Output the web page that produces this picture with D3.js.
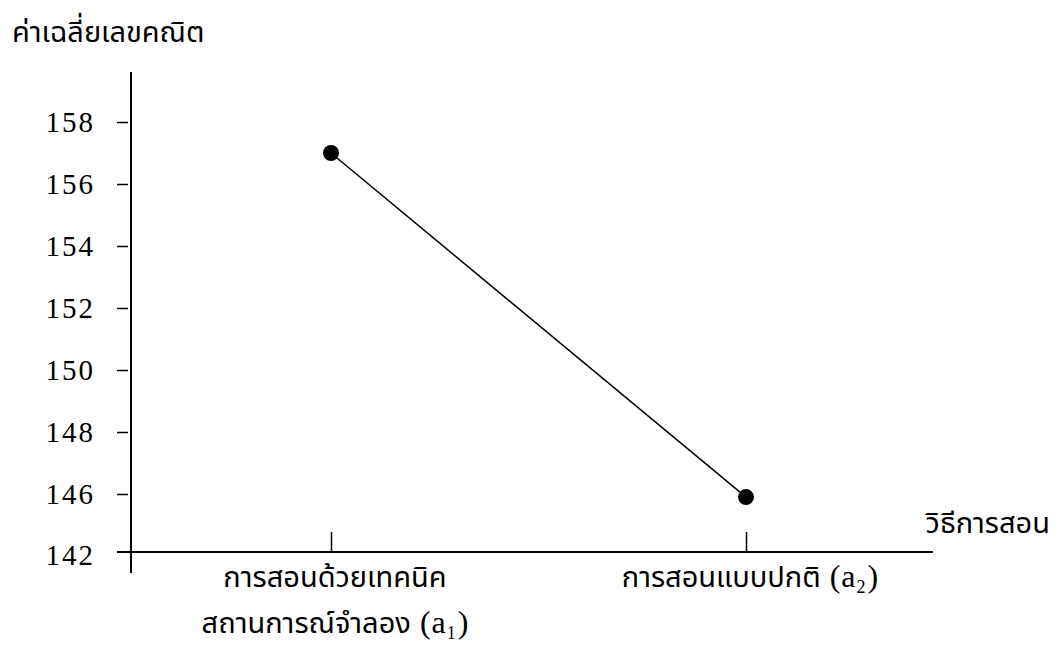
<!DOCTYPE html>
<html>
<head>
<meta charset="utf-8">
<script src="https://cdn.jsdelivr.net/npm/d3@7"></script>
<style>
  body { margin: 0; background: #fff; }
  .thai { font-family: "Noto Sans Thai", "Noto Sans", "DejaVu Sans", sans-serif; fill: #000; }
  .num { font-family: "Liberation Serif", "DejaVu Serif", serif; fill: #000; }
  .axis .domain { display: none; }
  .axis line { stroke: #000; stroke-width: 1.5; }
</style>
</head>
<body>
<div id="chart"></div>
<script>
/* chart data */
const categories = ["a1", "a2"];
const categoryLabels = [["การสอนด้วยเทคนิค", "สถานการณ์จำลอง"], ["การสอนแบบปกติ"]];
const categorySubs = ["1", "2"];
const meanValues = [157, 145.9];
const yTickValues = [146, 148, 150, 152, 154, 156, 158];
const baseTickLabel = "142";
const yTitle = "ค่าเฉลี่ยเลขคณิต";
const xTitle = "วิธีการสอน";

const size = { width: 1061, height: 647 };
const axisX = 131, axisTop = 72, axisBottom = 573;
const baseY = 552, xLeft = 117, xRight = 933;

const svg = d3.select("#chart").append("svg")
  .attr("width", size.width)
  .attr("height", size.height);

const y = d3.scaleLinear().domain([146, 158]).range([494, 122]);
const x = d3.scalePoint().domain(categories).range([331, 746]);

// y axis line and ticks
svg.append("line")
  .attr("x1", axisX).attr("x2", axisX)
  .attr("y1", axisTop).attr("y2", axisBottom)
  .attr("stroke", "#000").attr("stroke-width", 2);

const yAxis = d3.axisLeft(y).tickValues(yTickValues).tickSize(11).tickPadding(22);
svg.append("g")
  .attr("class", "axis")
  .attr("transform", "translate(128,0)")
  .call(yAxis)
  .call(g => g.selectAll("text")
    .attr("class", "num")
    .attr("font-size", 29)
    .attr("font-family", null)
    .style("letter-spacing", "2px"));

// axis break: baseline labelled 142
svg.append("text")
  .attr("class", "num")
  .attr("x", 95).attr("y", baseY + 4)
  .attr("dy", "0.32em")
  .attr("text-anchor", "end")
  .attr("font-size", 29)
  .style("letter-spacing", "2px")
  .text(baseTickLabel);

// x axis
svg.append("line")
  .attr("x1", xLeft).attr("x2", xRight)
  .attr("y1", baseY).attr("y2", baseY)
  .attr("stroke", "#000").attr("stroke-width", 2);

const xAxis = d3.axisTop(x).tickSize(20).tickFormat("");
svg.append("g")
  .attr("class", "axis")
  .attr("transform", "translate(0," + baseY + ")")
  .call(xAxis);

// category labels
categories.forEach((c, i) => {
  const lines = categoryLabels[i];
  const t = svg.append("text")
    .attr("class", "thai")
    .attr("text-anchor", "middle")
    .attr("font-size", 29);
  lines.forEach((ln, j) => {
    t.append("tspan")
      .attr("x", x(c) + 4)
      .attr("y", 587 + j * 46)
      .text(ln);
    if (j === lines.length - 1) {
      t.append("tspan").attr("class", "num").attr("font-size", 32).style("letter-spacing", "1px").text(" (a");
      t.append("tspan").attr("class", "num").attr("font-size", 18).attr("dy", 6).style("letter-spacing", "2px").text(categorySubs[i]);
      t.append("tspan").attr("class", "num").attr("font-size", 32).attr("dy", -6).text(")");
    }
  });
});

// titles
svg.append("text")
  .attr("class", "thai")
  .attr("x", 12).attr("y", 42)
  .attr("font-size", 29)
  .text(yTitle);

svg.append("text")
  .attr("class", "thai")
  .attr("x", 1050).attr("y", 533)
  .attr("text-anchor", "end")
  .attr("font-size", 29)
  .text(xTitle);

// line and points
const line = d3.line()
  .x((d, i) => x(categories[i]))
  .y(d => y(d));

svg.append("path")
  .datum(meanValues)
  .attr("fill", "none")
  .attr("stroke", "#000")
  .attr("stroke-width", 1.5)
  .attr("d", line);

svg.selectAll("circle.pt")
  .data(meanValues)
  .enter().append("circle")
  .attr("class", "pt")
  .attr("cx", (d, i) => x(categories[i]))
  .attr("cy", d => y(d))
  .attr("r", 8)
  .attr("fill", "#000");
</script>
</body>
</html>
